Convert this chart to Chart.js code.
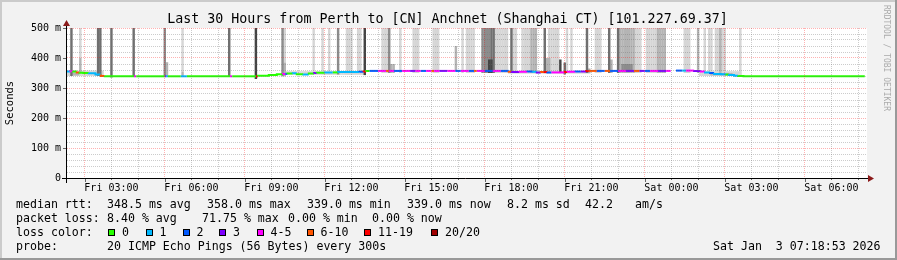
<!DOCTYPE html>
<html lang="en">
  <head>
    <meta charset="UTF-8" />
    <title>Last 30 Hours from Perth to [CN] Anchnet (Shanghai CT)</title>
    <script src="https://cdn.jsdelivr.net/npm/chart.js"></script>
    <style>
      html,
      body {
        margin: 0;
        padding: 0;
        background: #f2f2f2;
        font-family: "DejaVu Sans Mono", monospace;
      }

      #wrap {
        position: relative;
        width: 897px;
        height: 260px;
        overflow: hidden;
      }

      canvas {
        position: absolute;
        left: 0;
        top: 0;
      }

      #title {
        position: absolute;
        left: 0;
        top: 11px;
        width: 895px;
        text-align: center;
        font-size: 13.3px;
        line-height: 16px;
        white-space: pre;
        color: #000;
      }

      .leg {
        position: absolute;
        font-size: 11.6px;
        line-height: 14px;
        white-space: pre;
        color: #000;
      }

      .box {
        position: absolute;
        width: 5px;
        height: 5px;
        border: 1px solid #000;
      }

      #mark {
        position: absolute;
        left: 882px;
        top: 5px;
        writing-mode: vertical-rl;
        font-size: 8px;
        color: #ababab;
        white-space: pre;
      }
    </style>
  </head>
  <body>
    <div id="wrap">
      <canvas id="smokeChart" width="897" height="260"></canvas>

      <div id="title">Last 30 Hours from Perth to [CN] Anchnet (Shanghai CT) [101.227.69.37]</div>

      <div class="leg" style="left:16px;top:197px">median rtt:</div>
      <div class="leg" style="left:107px;top:197px">348.5 ms avg</div>
      <div class="leg" style="left:207px;top:197px">358.0 ms max</div>
      <div class="leg" style="left:307px;top:197px">339.0 ms min</div>
      <div class="leg" style="left:407px;top:197px">339.0 ms now</div>
      <div class="leg" style="left:507px;top:197px">8.2 ms sd</div>
      <div class="leg" style="left:585px;top:197px">42.2</div>
      <div class="leg" style="left:635px;top:197px">am/s</div>

      <div class="leg" style="left:16px;top:211px">packet loss:</div>
      <div class="leg" style="left:107px;top:211px">8.40 % avg</div>
      <div class="leg" style="left:202px;top:211px">71.75 % max</div>
      <div class="leg" style="left:288px;top:211px">0.00 % min</div>
      <div class="leg" style="left:372px;top:211px">0.00 % now</div>

      <div class="leg" style="left:16px;top:225px">loss color:</div>
      <div id="lossLegend"></div>

      <div class="leg" style="left:16px;top:239px">probe:</div>
      <div class="leg" style="left:107px;top:239px">20 ICMP Echo Pings (56 Bytes) every 300s</div>
      <div class="leg" style="left:713px;top:239px">Sat Jan  3 07:18:53 2026</div>

      <div id="mark">RRDTOOL / TOBI OETIKER</div>
    </div>

    <script>
      // hours counted from Fri 00:00, window is Fri 01:20 -> Sat 07:20
      const startHour = 4 / 3;
      const endHour = 94 / 3;

      const xTickHours = [3, 6, 9, 12, 15, 18, 21, 24, 27, 30];
      const xTickLabels = ["Fri 03:00", "Fri 06:00", "Fri 09:00", "Fri 12:00", "Fri 15:00",
        "Fri 18:00", "Fri 21:00", "Sat 00:00", "Sat 03:00", "Sat 06:00"];
      const yTickValues = [0, 100, 200, 300, 400, 500];
      const yTickLabels = ["0", "100 m", "200 m", "300 m", "400 m", "500 m"];

      const lossNames = ["0", "1", "2", "3", "4-5", "6-10", "11-19", "20/20"];
      const lossColors = ["#26ff00", "#00b8ff", "#0059ff", "#7e00ff", "#ff00ff", "#ff5500", "#ff0000", "#a00000"];

      // median rtt steps: [hour, ms, loss colour index]
      const medianSteps = [
        [1.33, 353, 1], [1.45, 355, 4], [1.55, 356, 0], [1.7, 355, 5], [1.8, 352, 0],
        [1.95, 351, 0], [2.15, 350, 1], [2.4, 349, 1], [2.6, 345, 5], [2.75, 340, 0],
        [2.95, 339, 0], [3.85, 339, 4], [3.93, 339, 0], [5.0, 339, 3], [5.05, 339, 1],
        [5.12, 339, 0], [5.6, 339, 1], [5.83, 339, 0], [7.45, 339, 4], [7.53, 339, 0],
        [8.42, 339, 6], [8.5, 339, 0], [8.9, 341, 0], [9.2, 343, 0], [9.43, 346, 4],
        [9.52, 347, 2], [9.6, 347, 0], [9.8, 348, 1], [9.95, 349, 0], [10.2, 346, 1],
        [10.4, 345, 0], [10.6, 348, 3], [10.7, 350, 0], [11.0, 351, 1], [11.3, 352, 0],
        [11.5, 352, 1], [12.3, 353, 2], [12.45, 354, 6], [12.55, 355, 0], [12.68, 357, 2],
        [13.0, 357, 4], [13.3, 357, 5], [13.4, 357, 4], [13.6, 357, 2], [13.9, 357, 4],
        [14.2, 357, 3], [14.4, 357, 4], [14.6, 357, 2], [14.8, 357, 4], [15.0, 357, 5],
        [15.1, 357, 4], [15.3, 357, 3], [15.6, 357, 4], [15.9, 357, 2], [16.1, 357, 4],
        [16.4, 357, 2], [16.6, 357, 5], [16.7, 357, 4], [17.0, 357, 2], [17.3, 357, 4],
        [17.6, 357, 2], [17.9, 357, 5], [18.0, 354, 3], [18.3, 353, 4], [18.6, 354, 2],
        [18.8, 355, 1], [18.95, 354, 3], [19.1, 352, 5], [19.2, 353, 6], [19.35, 353, 2],
        [19.5, 352, 4], [20.0, 352, 6], [20.1, 353, 4], [20.4, 354, 2], [20.6, 355, 3],
        [20.8, 355, 6], [20.9, 357, 5], [21.2, 357, 2], [21.5, 357, 5], [21.7, 357, 2],
        [22.0, 357, 4], [22.3, 357, 3], [22.6, 357, 5], [22.8, 357, 3], [23.0, 357, 2],
        [23.2, 357, 4], [23.5, 357, 3], [23.8, 357, 4], [23.97, 357, 4], [23.98, null, 0],
        [24.17, 358, 2], [24.4, 358, 1], [24.55, 358, 4], [24.85, 358, 3], [25.1, 357, 4],
        [25.26, 355, 1], [25.45, 352, 2], [25.6, 350, 1], [25.85, 347, 1], [26.05, 346, 0],
        [26.15, 345, 1], [26.35, 343, 1], [26.5, 341, 0], [26.7, 340, 0], [26.9, 339, 0],
        [31.25, 339, 0],
      ];

      // smoke: [from hour, to hour, low ms, high ms]
      const smokeLight = [
        [1.33, 2.75, 340, 358], [9.4, 12.5, 344, 356], [17.9, 21.0, 348, 356], [25.1, 26.7, 340, 356],
        [1.82, 1.93, 400, 500], [2.46, 2.53, 340, 500], [5.68, 5.76, 355, 500], [9.51, 9.58, 345, 500],
        [10.6, 10.67, 345, 500], [10.93, 11.01, 345, 500], [11.16, 11.23, 345, 500], [11.87, 12.1, 345, 500],
        [12.25, 12.43, 348, 500], [13.18, 13.41, 350, 500], [13.82, 13.93, 350, 500], [14.35, 14.57, 350, 500],
        [15.1, 15.32, 350, 500], [16.18, 16.26, 350, 500], [16.33, 16.67, 350, 500], [17.38, 17.95, 350, 500],
        [18.1, 18.25, 350, 500], [18.4, 18.58, 350, 500], [18.62, 18.73, 350, 500], [19.45, 19.63, 350, 500],
        [19.67, 19.82, 350, 500], [20.08, 20.2, 350, 500], [20.23, 20.34, 350, 500], [21.13, 21.43, 350, 500],
        [22.63, 22.93, 350, 500], [23.08, 23.46, 350, 500], [24.51, 24.77, 350, 500], [25.26, 25.33, 350, 500],
        [25.45, 25.56, 345, 500], [25.67, 26.08, 340, 500], [26.57, 26.68, 338, 500],
      ];
      const smokeMid = [
        [1.6, 1.8, 342, 352], [25.5, 26.3, 342, 350],
        [1.82, 1.93, 350, 400], [5.05, 5.16, 339, 386], [5.68, 5.76, 339, 355], [9.51, 9.58, 339, 384],
        [13.45, 13.63, 350, 380], [15.92, 16.0, 355, 440], [18.77, 18.96, 350, 500], [19.37, 19.52, 350, 400],
        [20.91, 21.02, 350, 365], [21.77, 21.85, 350, 395], [22.07, 22.63, 350, 500], [23.46, 23.83, 350, 500],
        [24.96, 25.03, 350, 500], [25.82, 25.93, 345, 500],
      ];
      const smokeGray = [
        [4.97, 5.05, 339, 500], [9.43, 9.51, 339, 500], [11.5, 11.57, 345, 500], [13.41, 13.48, 350, 500],
        [16.93, 17.23, 350, 500], [22.2, 22.6, 355, 380],
      ];
      const smokeDark = [
        [1.48, 1.6, 340, 500], [2.53, 2.68, 340, 500], [2.98, 3.1, 335, 500], [3.85, 3.92, 337, 500],
        [7.41, 7.48, 337, 500], [17.23, 17.38, 350, 500], [17.98, 18.1, 350, 500], [19.26, 19.37, 350, 500],
        [19.97, 20.08, 345, 385], [20.83, 20.91, 350, 500], [21.66, 21.77, 350, 500], [21.99, 22.07, 350, 500],
      ];
      const smokeDarkest = [
        [8.42, 8.5, 330, 500], [12.51, 12.58, 343, 500], [19.82, 19.93, 350, 395], [17.2, 17.3, 350, 395],
      ];

      // loss colour legend boxes
      const lossBoxX = [108, 145.5, 182.5, 219, 256.5, 306.5, 364, 431];
      const legendHolder = document.getElementById("lossLegend");
      lossNames.forEach((name, i) => {
        const b = document.createElement("div");
        b.className = "box";
        b.style.left = lossBoxX[i] + "px";
        b.style.top = "229px";
        b.style.background = lossColors[i];
        legendHolder.appendChild(b);
        const t = document.createElement("div");
        t.className = "leg";
        t.style.left = lossBoxX[i] + 14 + "px";
        t.style.top = "225px";
        t.textContent = name;
        legendHolder.appendChild(t);
      });

      // one bar per 5 minute step
      function toSlots(ranges) {
        const pts = [];
        ranges.forEach(([a, b, lo, hi]) => {
          let s = Math.round(a * 12);
          const e = Math.max(s + 1, Math.round(b * 12));
          for (; s < e; s++) pts.push({ x: s / 12, y: [lo, hi] });
        });
        return pts;
      }

      function smokeSet(ranges, color, order) {
        return {
          type: "bar",
          data: toSlots(ranges),
          backgroundColor: color,
          borderWidth: 0,
          grouped: false,
          barPercentage: 1.1,
          categoryPercentage: 1,
          order: order,
        };
      }

      const frame = {
        id: "frame",
        beforeDraw(chart) {
          const { ctx, chartArea: a } = chart;
          ctx.save();
          ctx.fillStyle = "#f2f2f2";
          ctx.fillRect(0, 0, 897, 260);
          ctx.fillStyle = "#cbcbcb";
          ctx.fillRect(0, 0, 897, 2);
          ctx.fillRect(0, 0, 2, 260);
          ctx.fillStyle = "#999999";
          ctx.fillRect(895, 0, 2, 260);
          ctx.fillRect(0, 258, 897, 2);
          ctx.fillStyle = "#ffffff";
          ctx.fillRect(a.left, a.top, a.right - a.left, a.bottom - a.top);
          ctx.restore();
        },
        afterDraw(chart) {
          const { ctx, chartArea: a, scales } = chart;
          ctx.save();
          // small ticks
          ctx.strokeStyle = "#666";
          ctx.lineWidth = 1;
          for (let h = 2; h <= 31; h++) {
            const x = Math.round(scales.x.getPixelForValue(h)) + 0.5;
            ctx.beginPath();
            ctx.moveTo(x, a.bottom);
            ctx.lineTo(x, a.bottom + (h % 3 === 2 ? 4 : 2));
            ctx.stroke();
          }
          yTickValues.forEach((v) => {
            const y = Math.round(scales.y.getPixelForValue(v)) + 0.5;
            ctx.beginPath();
            ctx.moveTo(a.left - 4, y);
            ctx.lineTo(a.left, y);
            ctx.stroke();
          });
          // axes
          ctx.strokeStyle = "#000";
          ctx.beginPath();
          ctx.moveTo(62, 178.5);
          ctx.lineTo(869, 178.5);
          ctx.moveTo(66.5, 183);
          ctx.lineTo(66.5, 25);
          ctx.stroke();
          ctx.fillStyle = "#8b1a1a";
          ctx.beginPath();
          ctx.moveTo(874, 178.5);
          ctx.lineTo(868, 175);
          ctx.lineTo(868, 182);
          ctx.closePath();
          ctx.fill();
          ctx.beginPath();
          ctx.moveTo(66.5, 20);
          ctx.lineTo(63, 26);
          ctx.lineTo(70, 26);
          ctx.closePath();
          ctx.fill();
          ctx.restore();
        },
      };

      Chart.defaults.font.family = "'DejaVu Sans Mono', monospace";
      Chart.defaults.color = "#000";

      const majorGrid = "rgba(255,0,0,0.3)";
      const minorGrid = "rgba(110,110,110,0.35)";

      const ctx = document.getElementById("smokeChart").getContext("2d");
      new Chart(ctx, {
        type: "bar",
        data: {
          datasets: [
            {
              type: "line",
              data: medianSteps.map(([h, v]) => ({ x: h, y: v })),
              borderColor: lossColors[0],
              borderWidth: 2,
              pointRadius: 0,
              stepped: "after",
              spanGaps: false,
              order: 0,
              segment: {
                borderColor: (c) => lossColors[medianSteps[c.p0DataIndex][2]],
              },
            },
            smokeSet(smokeDarkest, "#444444", 1),
            smokeSet(smokeDark, "#707070", 2),
            smokeSet(smokeGray, "#8c8c8c", 3),
            smokeSet(smokeMid, "#b4b4b4", 4),
            smokeSet(smokeLight, "#d6d6d6", 5),
          ],
        },
        options: {
          responsive: false,
          animation: false,
          devicePixelRatio: 1,
          layout: {
            autoPadding: false,
            padding: { left: 0, right: 30, top: 28, bottom: 62 },
          },
          plugins: {
            legend: { display: false },
            tooltip: { enabled: false },
          },
          scales: {
            x: {
              type: "linear",
              min: startHour,
              max: endHour,
              offset: false,
              afterBuildTicks: (s) => {
                const t = [];
                for (let h = 2; h <= 31; h++) t.push({ value: h });
                s.ticks = t;
              },
              afterFit: (s) => {
                s.height = 20;
              },
              grid: {
                offset: false,
                drawTicks: false,
                z: 1,
                color: (c) => (c.tick && c.tick.value % 3 === 2 ? majorGrid : minorGrid),
              },
              border: { display: false, dash: [1, 1] },
              ticks: {
                autoSkip: false,
                maxRotation: 0,
                padding: 4,
                font: { size: 10 },
                callback: (v) => {
                  const i = xTickHours.indexOf(v);
                  return i >= 0 ? xTickLabels[i] : "";
                },
              },
            },
            y: {
              type: "linear",
              min: 0,
              max: 500,
              afterBuildTicks: (s) => {
                const t = [];
                for (let v = 0; v <= 500; v += 20) t.push({ value: v });
                s.ticks = t;
              },
              afterFit: (s) => {
                s.width = 67;
              },
              grid: {
                drawTicks: false,
                z: 1,
                color: (c) => (c.tick && c.tick.value % 100 === 0 ? majorGrid : minorGrid),
              },
              border: { display: false, dash: [1, 1] },
              title: {
                display: true,
                text: "Seconds",
                font: { size: 10.5 },
                color: "#000",
                padding: { top: 4, bottom: 4 },
              },
              ticks: {
                autoSkip: false,
                padding: 6,
                font: { size: 10 },
                callback: (v) => {
                  const i = yTickValues.indexOf(v);
                  return i >= 0 ? yTickLabels[i] : "";
                },
              },
            },
          },
        },
        plugins: [frame],
      });
    </script>
  </body>
</html>
